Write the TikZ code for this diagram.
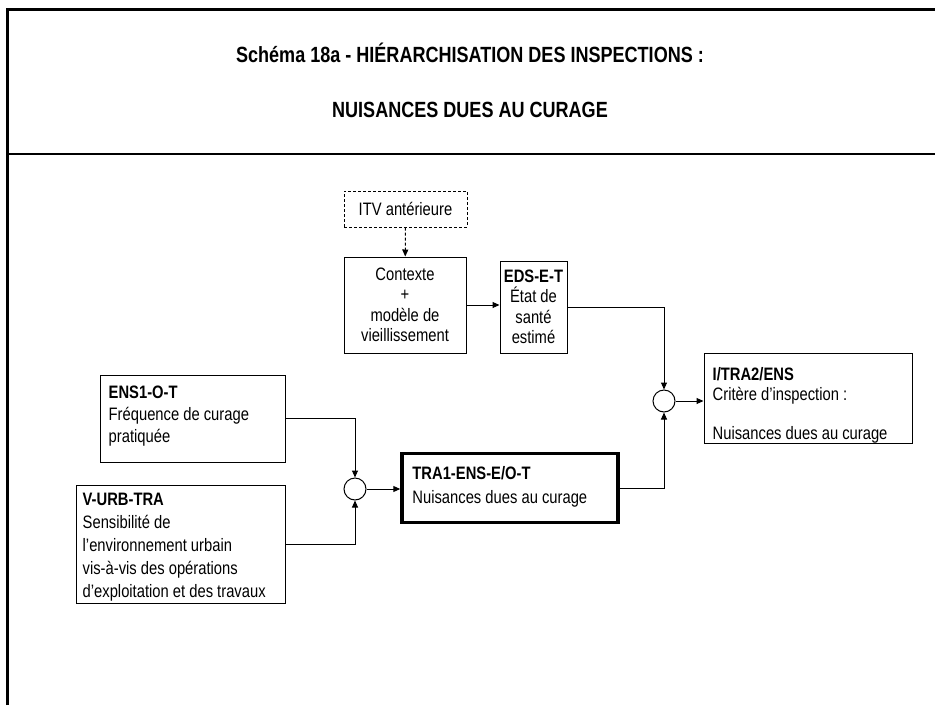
\documentclass[tikz,border=0pt]{standalone}
\usepackage{fontspec}
\setmainfont{Liberation Sans}[FakeStretch=0.82]
\usetikzlibrary{positioning,arrows.meta}

\begin{document}
\begin{tikzpicture}[
  x=1pt, y=-1pt,
  font=\fontsize{18}{20.5}\selectfont,
  lh/.style={font=\fontsize{18}{#1}\selectfont},
  titre/.style={font=\bfseries\fontsize{22}{24}\selectfont},
  box/.style={rectangle, draw=black, line width=1pt, inner sep=0pt},
  txt/.style={align=left, anchor=north west, inner xsep=9pt, inner ysep=6pt},
  circ/.style={circle, draw=black, line width=1pt, minimum size=22pt, inner sep=0pt},
  fleche/.style={-{Triangle[length=7pt,width=6pt]}, line width=1pt}
  ]
  \useasboundingbox (0,0) rectangle (935,705);
  % cadre
  \draw[line width=3pt] (7,705) -- (7,9) -- (935,9);
  \draw[line width=1.5pt] (7,154) -- (935,154);
  \node[titre] (t1) at (470,53) {Schéma 18a - HIÉRARCHISATION DES INSPECTIONS :};
  \node[titre] (t2) at (470,110) {NUISANCES DUES AU CURAGE};

  % haut
  \node[box, dash pattern=on 3pt off 2pt, minimum width=123pt, minimum height=36pt] (itv) at (405.5,209) {ITV antérieure};
  \node[box, align=center, minimum width=122pt, minimum height=96pt] (ctx) at (405,305) {Contexte\\+\\modèle de\\vieillissement};
  \node[box, align=center, minimum width=67pt, minimum height=92pt] (eds) at (533.5,307) {\textbf{EDS-E-T}\\État de\\santé\\estimé};
  \node[box, minimum width=208pt, minimum height=90pt] (itra) at (808,398) {};
  \node[txt, lh=19.5, inner ysep=15pt] (itrat) at (itra.north west) {\textbf{I/TRA2/ENS}\\Critère d'inspection :\\\mbox{}\\Nuisances dues au curage};

  % bas
  \node[box, minimum width=185pt, minimum height=87pt] (ens1) at (192.5,418.5) {};
  \node[txt, lh=22, inner ysep=11pt] (ens1t) at (ens1.north west) {\textbf{ENS1-O-T}\\Fréquence de curage\\pratiquée};
  \node[box, minimum width=209pt, minimum height=118pt] (vurb) at (180.5,544) {};
  \node[txt, lh=23, inner xsep=7pt, inner ysep=8pt] (vurbt) at (vurb.north west) {\textbf{V-URB-TRA}\\Sensibilité de\\l'environnement urbain\\vis-à-vis des opérations\\d'exploitation et des travaux};
  \node[box, line width=3.5pt, minimum width=216pt, minimum height=69pt] (tra1) at (510,488) {};
  \node[txt, lh=24, inner xsep=12pt, inner ysep=14pt] (tra1t) at (tra1.north west) {\textbf{TRA1-ENS-E/O-T}\\Nuisances dues au curage};

  \node[circ] (c1) at (355,489) {};
  \node[circ] (c2) at (664,401) {};

  \draw[fleche, dash pattern=on 3pt off 2pt] (itv) -- (ctx);
  \draw[fleche] (ctx) -- (ctx -| eds.west);
  \draw[fleche] (eds.east) -| (c2.north);
  \draw[fleche] (tra1.east) -| (c2.south);
  \draw[fleche] (c2) -- (c2 -| itra.west);
  \draw[fleche] (ens1.east) -| (c1.north);
  \draw[fleche] (vurb.east) -| (c1.south);
  \draw[fleche] (c1) -- (c1 -| tra1.west);
\end{tikzpicture}
\end{document}
